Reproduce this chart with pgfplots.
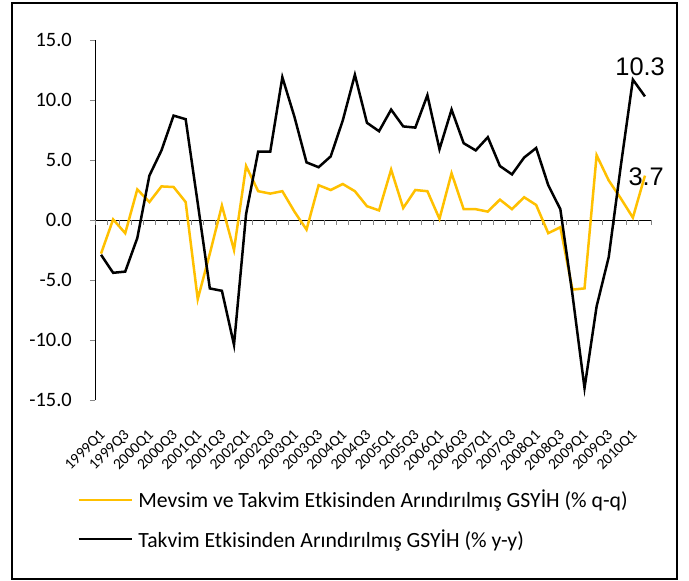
\documentclass[border=0pt]{standalone}
\usepackage{fontspec}
\setmainfont{Carlito}
\newfontfamily\arialf{Liberation Sans}
\usepackage{pgfplots}
\usepackage{pgfplotstable}
\pgfplotsset{compat=1.18}
\definecolor{gold}{RGB}{255,192,0}
\definecolor{tickgray}{RGB}{134,134,134}

% idx: quarter number from 1999Q1, qq: s.a. q-q growth, yy: y-y growth
\pgfplotstableread{
idx qq yy
0 -2.8 -2.9
1 0.05 -4.4
2 -1.1 -4.3
3 2.55 -1.5
4 1.5 3.7
5 2.8 5.8
6 2.75 8.7
7 1.5 8.4
8 -6.6 1.4
9 -2.8 -5.7
10 1.2 -5.9
11 -2.5 -10.4
12 4.5 0.5
13 2.4 5.7
14 2.2 5.7
15 2.4 11.9
16 0.7 8.6
17 -0.8 4.8
18 2.9 4.4
19 2.5 5.3
20 3.0 8.3
21 2.4 12.1
22 1.15 8.1
23 0.8 7.4
24 4.2 9.2
25 1.0 7.8
26 2.5 7.7
27 2.4 10.4
28 0.1 5.9
29 3.9 9.2
30 0.9 6.4
31 0.9 5.8
32 0.7 6.9
33 1.7 4.5
34 0.9 3.8
35 1.9 5.2
36 1.25 6.0
37 -1.1 2.9
38 -0.6 0.9
39 -5.8 -6.2
40 -5.7 -14.0
41 5.4 -7.2
42 3.3 -3.1
43 1.8 4.5
44 0.2 11.7
45 3.7 10.3
}\gdpdata

\begin{document}
\begin{tikzpicture}
\path (0,0) rectangle (689bp,-581bp);
\draw[line width=2bp] (12bp,-3bp) rectangle (677bp,-579bp);
\begin{axis}[
  at={(95bp,-400bp)}, anchor=south west,
  scale only axis, width=556bp, height=360bp,
  xmin=-0.5, xmax=45.5, ymin=-15, ymax=15,
  axis x line*=bottom, axis y line*=left,
  axis line style={-},
  x axis line style={draw=none},
  y axis line style={line width=1bp},
  xtick={0,2,...,44},
  xticklabels={1999Q1,1999Q3,2000Q1,2000Q3,2001Q1,2001Q3,2002Q1,2002Q3,2003Q1,2003Q3,2004Q1,2004Q3,2005Q1,2005Q3,2006Q1,2006Q3,2007Q1,2007Q3,2008Q1,2008Q3,2009Q1,2009Q3,2010Q1},
  xtick style={draw=none},
  xticklabel style={yshift=-28bp, xshift=2bp, rotate=45, anchor=east, inner sep=0pt, font=\fontsize{15.5}{15.5}\selectfont},
  ytick={-15,-10,-5,0,5,10,15},
  yticklabels={-15.0,-10.0,-5.0,0.0,5.0,10.0,15.0},
  ytick style={tickgray, line width=1bp},
  tick align=outside, major tick length=5bp,
  yticklabel style={inner sep=0pt, xshift=-18bp, font=\fontsize{20.5}{20.5}\selectfont},
  clip=false,
  legend image code/.code={\draw[#1] (0bp,0bp) -- (53bp,0bp);},
  legend cell align=left,
  legend style={at={(axis description cs:-0.032,-0.25)}, anchor=north west,
    draw=none, fill=none, inner sep=0pt, row sep=20bp,
    nodes={inner sep=0pt},
    /tikz/every odd column/.append style={column sep=5.5bp},
    font=\fontsize{21.8}{21.8}\selectfont},
]
\draw[line width=1bp] (axis cs:-0.5,0) -- (axis cs:45.5,0);
\pgfplotsinvokeforeach{-0.5,0.5,...,45.5}{
  \draw[tickgray, line width=1bp] (axis cs:#1,0) -- ([yshift=-5bp]axis cs:#1,0);
}
\addplot[gold, line width=2.5bp] table[x=idx, y=qq] {\gdpdata};
\addlegendentry{Mevsim ve Takvim Etkisinden Arındırılmış GSYİH (\% q-q)}
\addplot[black, line width=2.5bp] table[x=idx, y=yy] {\gdpdata};
\addlegendentry{Takvim Etkisinden Arındırılmış GSYİH (\% y-y)}
\node[font=\arialf\fontsize{25.5}{25.5}\selectfont] at (axis cs:44.6,12.75) {10.3};
\node[font=\arialf\fontsize{25.5}{25.5}\selectfont] at (axis cs:45.1,3.6) {3.7};
\end{axis}
\end{tikzpicture}
\end{document}
